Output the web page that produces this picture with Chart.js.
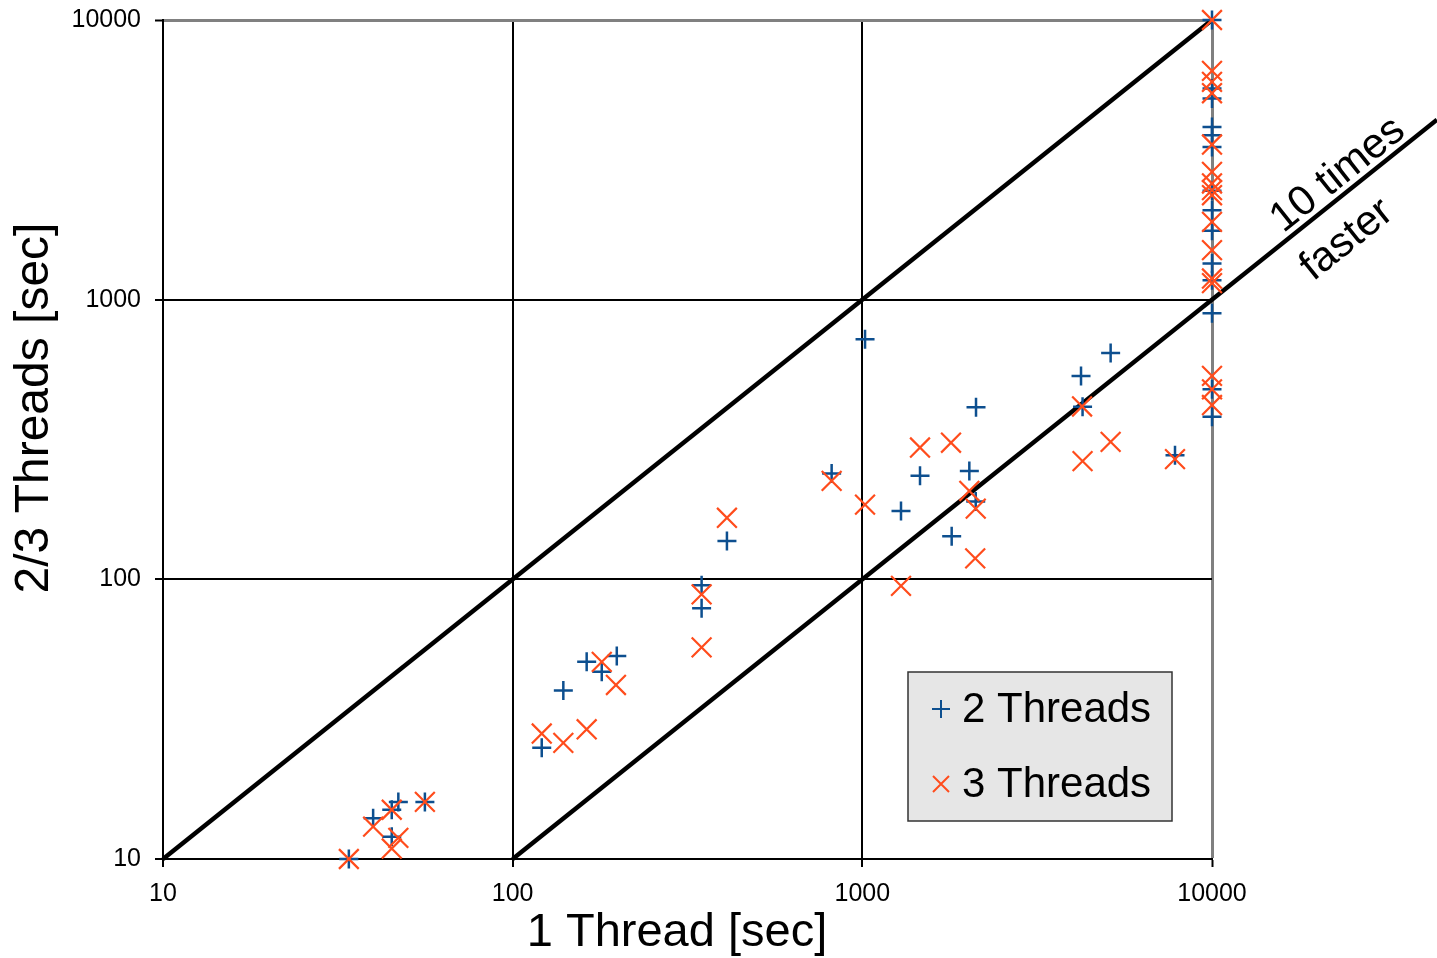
<!DOCTYPE html>
<html>
<head>
<script src="https://cdn.jsdelivr.net/npm/chart.js@4/dist/chart.umd.min.js"></script>
<style>
body{margin:0;background:#fff;}
#wrap{width:1437px;height:958px;}
</style>
</head>
<body>
<div id="wrap"><canvas id="myChart" width="1437" height="958"></canvas></div>
<script>
var tickVals=[10,100,1000,10000];
var tickLabels=["10","100","1000","10000"];

// 2 threads
var twoX=[34,39.9,45.1,47.1,45.1,56.1,162.8,198.5,179.8,139.6,121.1,347,347,410,
  1018,2114,817,1462,2023,2110,1290,1801,5130,4221,4264,7838,
  10000,10000,10000,10000,10000,10000,10000,10000,10000,10000,10000,10000,10000,10000];
var twoY=[10,14,15,16,12,16,50.7,53.2,46.7,40,25,95.3,78.8,137,
  722,412,239,234.5,244,190,175.4,142.7,645,533,414,278,
  10000,5688,5240,4147,3873,3518,2450,2089,1762,1347,1174,895,478,381];

// 3 threads
var threeX=[34,39.9,45.1,47.1,45.1,56.1,179.8,197.4,121.1,139.6,162.8,347,347,410,
  1462,1793,817,2023,2110,1018,2103,1290,4250,5130,4264,7838,
  10000,10000,10000,10000,10000,10000,10000,10000,10000,10000,10000,10000,10000,10000,10000,10000];
var threeY=[10,13.05,15,11.9,10.9,16,50.7,41.9,28.1,26,29.1,57.1,88.4,166,
  296,308,225,207,179,185,118.8,94.8,415,310,264.7,269,
  10000,6577,6005,5473,3587,2863,2603,2463,2363,1898,1503,1190,1146,534,478,420];

// reference lines: same speed and 10 times faster
var sameX=[10,10000], sameY=[10,10000];
var tenX=[100,44000], tenY=[10,4400];

function pts(xs,ys){
  var out=[];
  for(var i=0;i<xs.length;i++) out.push({x:xs[i],y:ys[i]});
  return out;
}

var blue="#0d4f8f";
var orange="#ff4c1c";
var font="'Liberation Sans', Arial, sans-serif";

function gridColor(ctx){
  return (ctx.tick && ctx.tick.value==10000) ? "#808080" : "#000";
}
function gridWidth(ctx){
  return (ctx.tick && ctx.tick.value==10000) ? 3 : 2;
}

var extras={
  id:"extras",
  afterDraw:function(chart){
    var c=chart.ctx;
    c.save();
    c.fillStyle="#000";
    c.font="47px "+font;
    c.textAlign="center";
    c.textBaseline="middle";
    c.fillText("1 Thread [sec]",677,933);
    c.save();
    c.translate(35,408);
    c.rotate(-Math.PI/2);
    c.font="48px "+font;
    c.fillText("2/3 Threads [sec]",0,0);
    c.restore();

    // "10 times faster" along the line
    var ang=Math.atan(279.75/349.67);
    c.font="42px "+font;
    c.save();
    c.translate(1338,175);
    c.rotate(-ang);
    c.fillText("10 times",0,0);
    c.restore();
    c.save();
    c.translate(1347,240);
    c.rotate(-ang);
    c.fillText("faster",0,0);
    c.restore();

    // legend
    c.fillStyle="#e6e6e6";
    c.fillRect(908,672,264,149);
    c.strokeStyle="#333";
    c.lineWidth=1.5;
    c.strokeRect(908,672,264,149);
    c.lineWidth=2;
    c.strokeStyle=blue;
    c.beginPath();
    c.moveTo(932,709);c.lineTo(950,709);
    c.moveTo(941,700);c.lineTo(941,718);
    c.stroke();
    c.strokeStyle=orange;
    c.beginPath();
    c.moveTo(933,776);c.lineTo(949,792);
    c.moveTo(949,776);c.lineTo(933,792);
    c.stroke();
    c.fillStyle="#000";
    c.textAlign="left";
    c.font="42px "+font;
    c.fillText("2 Threads",962,710);
    c.fillText("3 Threads",962,785);
    c.restore();
  }
};

new Chart("myChart",{
  type:"scatter",
  data:{
    datasets:[
      {label:"3 Threads",data:pts(threeX,threeY),pointStyle:"crossRot",pointRadius:14,
        borderColor:orange,backgroundColor:orange,pointBorderWidth:2.2,order:1,clip:false},
      {label:"2 Threads",data:pts(twoX,twoY),pointStyle:"cross",pointRadius:9.5,
        borderColor:blue,backgroundColor:blue,pointBorderWidth:2.5,order:2,clip:false},
      {type:"line",data:pts(sameX,sameY),showLine:true,pointRadius:0,borderColor:"#000",
        borderWidth:4.5,order:3,clip:false},
      {type:"line",data:pts(tenX,tenY),showLine:true,pointRadius:0,borderColor:"#000",
        borderWidth:4.5,order:3,clip:false}
    ]
  },
  options:{
    responsive:false,
    animation:false,
    layout:{padding:{left:0,right:225,top:20,bottom:0}},
    plugins:{legend:{display:false},tooltip:{enabled:false}},
    scales:{
      x:{
        type:"logarithmic",min:10,max:10000,
        afterBuildTicks:function(s){s.ticks=tickVals.map(function(v){return {value:v};});},
        afterFit:function(s){s.height=99;s.paddingLeft=0;s.paddingRight=0;},
        ticks:{autoSkip:false,maxRotation:0,padding:12,color:"#000",
          font:{family:font,size:25},
          callback:function(v){return tickLabels[tickVals.indexOf(v)];}},
        grid:{color:gridColor,lineWidth:gridWidth,tickLength:8,tickColor:"#000",tickWidth:2},
        border:{color:"#000",width:2}
      },
      y:{
        type:"logarithmic",min:10,max:10000,
        afterBuildTicks:function(s){s.ticks=tickVals.map(function(v){return {value:v};});},
        afterFit:function(s){s.width=163;s.paddingTop=0;s.paddingBottom=0;},
        ticks:{autoSkip:false,padding:14,color:"#000",
          font:{family:font,size:25},
          callback:function(v){return tickLabels[tickVals.indexOf(v)];}},
        grid:{color:gridColor,lineWidth:gridWidth,tickLength:8,tickColor:"#000",tickWidth:2},
        border:{color:"#000",width:2}
      }
    }
  },
  plugins:[extras]
});
</script>
</body>
</html>
